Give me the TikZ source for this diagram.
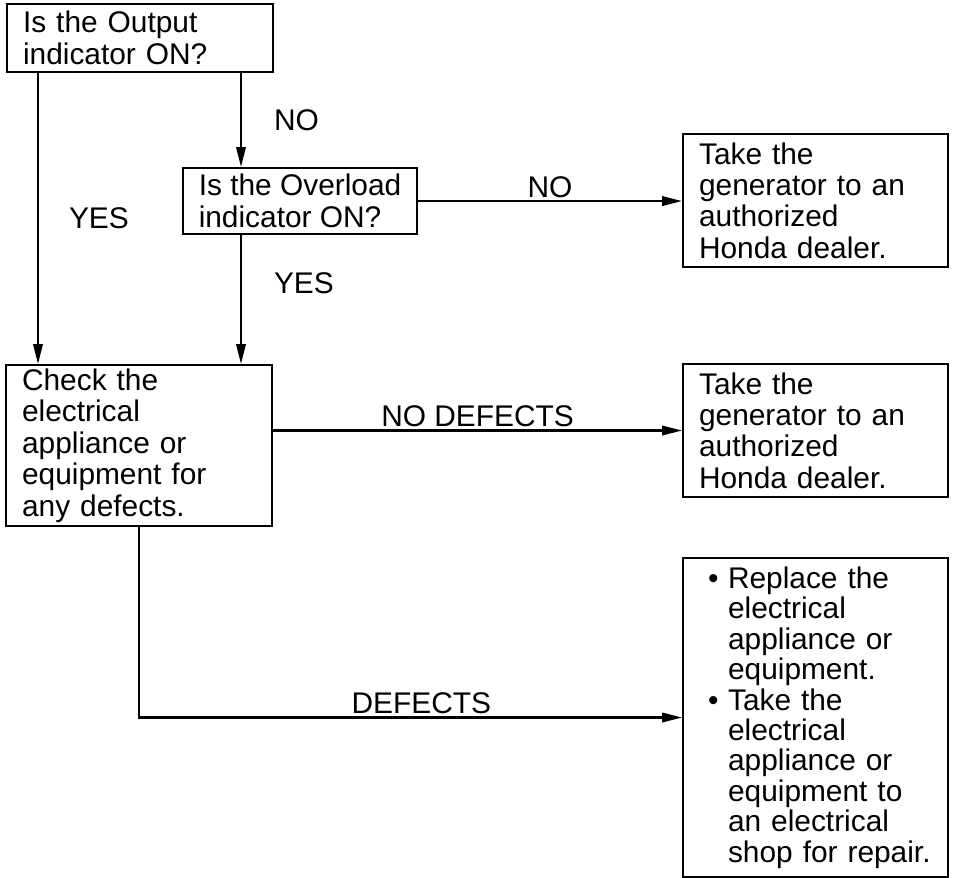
\documentclass[tikz,border=0pt]{standalone}
\usepackage{fontspec}
\setmainfont{Liberation Sans}
\usetikzlibrary{arrows.meta,positioning}

\hyphenpenalty=10000
\newcommand{\bul}{\makebox[0.58cm][l]{\hspace{0.18cm}\textbullet}}
\newcommand{\ind}{\hspace*{0.58cm}}

\begin{document}
\begin{tikzpicture}[x=0.02cm, y=-0.02cm,
    box/.style={draw, line width=1.2pt, anchor=north west, align=left, inner xsep=0.32cm, inner ysep=0pt, font=\fontsize{17pt}{17.9pt}\selectfont},
    lbl/.style={font=\fontsize{17pt}{17.9pt}\selectfont, inner sep=0.05cm},
    flow/.style={-{Triangle[length=0.4cm, width=0.19cm]}, line width=1.2pt},
]
\useasboundingbox (0,0) rectangle (953,878);

\node[box, text width=4.68cm, minimum height=1.36cm] (out) at (6,3) {Is the Output\\indicator ON?};
\node[box, inner xsep=0pt, minimum width=4.68cm, minimum height=1.32cm] (ovl) at (182,167) {Is the Overload\\indicator ON?};
\node[box, text width=4.66cm, minimum height=2.66cm] (take1) at (682,133) {Take the\\generator to an\\authorized\\Honda dealer.};
\node[box, text width=4.68cm, minimum height=3.22cm] (chk) at (5,364) {Check the\\electrical\\appliance or\\equipment for\\any defects.};
\node[box, text width=4.66cm, minimum height=2.66cm] (take2) at (682,363) {Take the\\generator to an\\authorized\\Honda dealer.};
\node[box, text width=4.66cm, minimum height=6.38cm, font=\fontsize{17pt}{17.3pt}\selectfont] (repl) at (682,557) {\bul Replace the\\\ind electrical\\\ind appliance or\\\ind equipment.\\\bul Take the\\\ind electrical\\\ind appliance or\\\ind equipment to\\\ind an electrical\\\ind shop for repair.};

\coordinate (yesx) at (38,0);
\coordinate (nox) at (241,0);

\draw[flow] (out.south -| yesx) -- node[lbl, anchor=west, xshift=0.55cm] {YES} (chk.north -| yesx);
\draw[flow] (out.south -| nox) -- node[lbl, anchor=west, xshift=0.59cm] {NO} (ovl.north -| nox);
\draw[flow] (ovl.south -| nox) -- node[lbl, anchor=west, xshift=0.59cm, pos=0.37] {YES} (chk.north -| nox);
\draw[flow] (ovl.east) -- node[lbl, above] {NO} (ovl.east -| take1.west);
\draw[flow] (take2.west -| chk.east) -- node[lbl, above] {NO DEFECTS} (take2.west);
\draw[flow] (chk.south) |- node[lbl, above, pos=0.76] {DEFECTS} (repl.west);

\end{tikzpicture}
\end{document}
